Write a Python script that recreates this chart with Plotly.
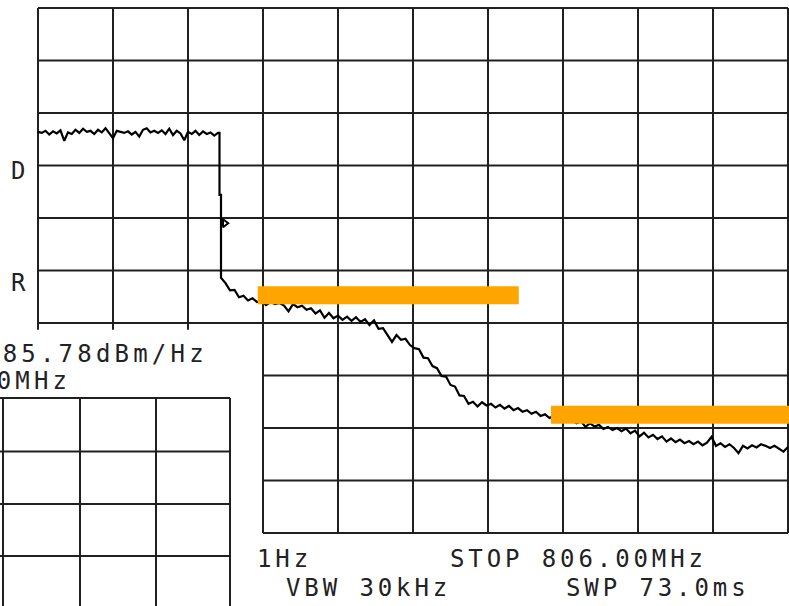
import plotly.graph_objects as go

# ---------------- data (screen divisions: x 0..10 left->right, y 0..10 bottom->top) ----------------
trace_x = [
    0.00, 0.05, 0.10, 0.15, 0.20, 0.25, 0.30, 0.35, 0.40, 0.45, 0.50, 0.55, 0.60, 0.65, 0.70,
    0.75, 0.80, 0.85, 0.90, 0.95, 1.00, 1.05, 1.10, 1.15, 1.20, 1.25, 1.30, 1.35, 1.40, 1.45,
    1.50, 1.55, 1.60, 1.65, 1.70, 1.75, 1.80, 1.85, 1.90, 1.95, 2.00, 2.05, 2.10, 2.15, 2.20,
    2.25, 2.30, 2.35, 2.40, 2.42, 2.42, 2.44,
    2.44, 2.50, 2.56, 2.62, 2.68, 2.74, 2.80, 2.86, 2.92, 2.98, 3.04, 3.10, 3.16, 3.22, 3.28,
    3.34, 3.40, 3.46, 3.52, 3.58, 3.64, 3.70, 3.76, 3.82, 3.88, 3.94, 4.00, 4.06, 4.12, 4.18,
    4.24, 4.30, 4.36, 4.42, 4.48, 4.54, 4.60, 4.66, 4.72, 4.78, 4.84, 4.90, 4.96, 5.02, 5.08,
    5.14, 5.20, 5.26, 5.32, 5.38, 5.44, 5.50, 5.56, 5.62, 5.68, 5.74, 5.80, 5.86, 5.92, 5.98,
    6.04, 6.10, 6.16, 6.22, 6.28, 6.34, 6.40, 6.46, 6.52, 6.58, 6.64, 6.70, 6.76, 6.82, 6.88,
    6.94, 7.00, 7.06, 7.12, 7.18, 7.24, 7.30, 7.36, 7.42, 7.48, 7.54, 7.60, 7.66, 7.72, 7.78,
    7.84, 7.90, 7.96, 8.02, 8.08, 8.14, 8.20, 8.26, 8.32, 8.38, 8.44, 8.50, 8.56, 8.62, 8.68,
    8.74, 8.80, 8.86, 8.92, 8.98, 9.04, 9.10, 9.16, 9.22, 9.28, 9.34, 9.40, 9.46, 9.52, 9.58,
    9.64, 9.70, 9.76, 9.82, 9.88, 9.94, 10.00,
]
trace_y = [
    7.64, 7.62, 7.66, 7.59, 7.65, 7.61, 7.67, 7.47, 7.63, 7.60, 7.68, 7.62, 7.70, 7.64, 7.66,
    7.60, 7.68, 7.63, 7.71, 7.62, 7.52, 7.66, 7.64, 7.62, 7.65, 7.59, 7.64, 7.55, 7.68, 7.71,
    7.63, 7.66, 7.62, 7.67, 7.60, 7.70, 7.58, 7.66, 7.61, 7.48, 7.64, 7.60, 7.66, 7.58, 7.65,
    7.60, 7.63, 7.57, 7.62, 7.62, 6.44, 6.44,
    4.86, 4.76, 4.62, 4.63, 4.49, 4.52, 4.43, 4.47, 4.40, 4.42, 4.34, 4.40, 4.36, 4.38, 4.33,
    4.22, 4.36, 4.30, 4.33, 4.25, 4.28, 4.18, 4.24, 4.10, 4.19, 4.09, 4.14, 4.06, 4.12, 4.04,
    4.11, 4.02, 4.07, 3.96, 4.05, 3.89, 3.90, 3.78, 3.64, 3.77, 3.68, 3.70, 3.58, 3.52, 3.50,
    3.34, 3.33, 3.18, 3.14, 2.99, 2.98, 2.82, 2.79, 2.62, 2.61, 2.46, 2.50, 2.41, 2.49, 2.43,
    2.46, 2.39, 2.44, 2.37, 2.42, 2.34, 2.38, 2.31, 2.34, 2.27, 2.31, 2.23, 2.26, 2.19, 2.23,
    2.12, 2.20, 2.12, 2.15, 2.09, 2.13, 2.02, 2.09, 2.03, 2.06, 1.98, 2.02, 1.96, 2.00, 1.94,
    1.99, 1.90, 1.95, 1.84, 1.91, 1.82, 1.87, 1.79, 1.84, 1.74, 1.80, 1.73, 1.78, 1.71, 1.75,
    1.69, 1.74, 1.67, 1.72, 1.83, 1.66, 1.71, 1.64, 1.69, 1.62, 1.52, 1.66, 1.61, 1.67, 1.63,
    1.69, 1.66, 1.62, 1.66, 1.60, 1.55, 1.64,
]
marker_x = [2.49]
marker_y = [5.90]

limit_start = [2.93, 6.84]
limit_stop = [6.41, 10.03]
limit_level = [4.53, 2.25]

readout_lines = ["-85.78dBm/Hz", "50MHz"]
side_labels = ["D", "R"]
footer_lines = ["1Hz", "STOP 806.00MHz", "VBW 30kHz", "SWP 73.0ms"]

# ---------------- layout constants ----------------
W, H = 789, 606
X_RANGE = [-0.5067, 10.0133]
Y_RANGE = [-1.3905, 10.152]
GRID_COLOR = "#202020"
GRID_W = 2
TEXT_COLOR = "#222222"
FONT = "DejaVu Sans Mono"

fig = go.Figure()

shapes = []


def seg(x0, y0, x1, y1):
    shapes.append(dict(type="line", xref="x", yref="y", x0=x0, y0=y0, x1=x1, y1=y1,
                       line=dict(color=GRID_COLOR, width=GRID_W), layer="below"))


# main graticule (lower-left quadrant is missing)
for i in range(0, 3):
    seg(i, 3.87, i, 10)
for i in range(3, 11):
    seg(i, 0, i, 10)
for j in range(4, 11):
    seg(0, j, 10, j)
for j in range(0, 4):
    seg(3, j, 10, j)

# displaced fragment of a second graticule in the lower-left corner
small_vx = [-0.467, 0.56, 1.573, 2.56]
small_hy = [2.571, 1.552, 0.552, -0.438]
for vx in small_vx:
    seg(vx, -1.6, vx, small_hy[0])
for hy in small_hy:
    seg(-0.6, hy, small_vx[-1], hy)

# measured trace
fig.add_trace(go.Scatter(x=trace_x, y=trace_y, mode="lines",
                         line=dict(color="#000000", width=2.2), hoverinfo="skip",
                         showlegend=False))
fig.add_trace(go.Scatter(x=marker_x, y=marker_y, mode="markers",
                         marker=dict(symbol="triangle-right-open", size=7,
                                     line=dict(color="#000000", width=2), color="#000000"),
                         hoverinfo="skip", showlegend=False))

# limit bars
for xs, xe, lv in zip(limit_start, limit_stop, limit_level):
    fig.add_trace(go.Scatter(x=[xs, xe], y=[lv, lv], mode="lines",
                             line=dict(color="#FFA500", width=18), hoverinfo="skip",
                             showlegend=False))

annotations = []


def label(text, px, py, spacing):
    annotations.append(dict(
        text=f'<span style="letter-spacing:{spacing}px">{text}</span>',
        xref="paper", yref="paper", x=px / W, y=1 - py / H,
        xanchor="left", yanchor="middle", showarrow=False,
        font=dict(family=FONT, size=24, color=TEXT_COLOR)))


label(readout_lines[0], -17.7, 354, 4.2)
label(readout_lines[1], -23.7, 380.5, 4.2)
label(side_labels[0], 9, 171.5, 0)
label(side_labels[1], 9, 282.5, 0)
label(footer_lines[0], 255, 559, 3.9)
label(footer_lines[1], 448, 559, 3.9)
label(footer_lines[2], 284, 587.5, 3.9)
label(footer_lines[3], 564, 587.5, 3.9)

fig.update_layout(
    width=W, height=H,
    margin=dict(l=0, r=0, t=0, b=0),
    paper_bgcolor="white", plot_bgcolor="white",
    xaxis=dict(range=X_RANGE, visible=False, showgrid=False, zeroline=False, fixedrange=True),
    yaxis=dict(range=Y_RANGE, visible=False, showgrid=False, zeroline=False, fixedrange=True),
    shapes=shapes, annotations=annotations, showlegend=False,
)

fig.write_html("out.html", config={"displayModeBar": False},
               post_script="document.body.style.margin='0';document.body.style.overflow='hidden';")
